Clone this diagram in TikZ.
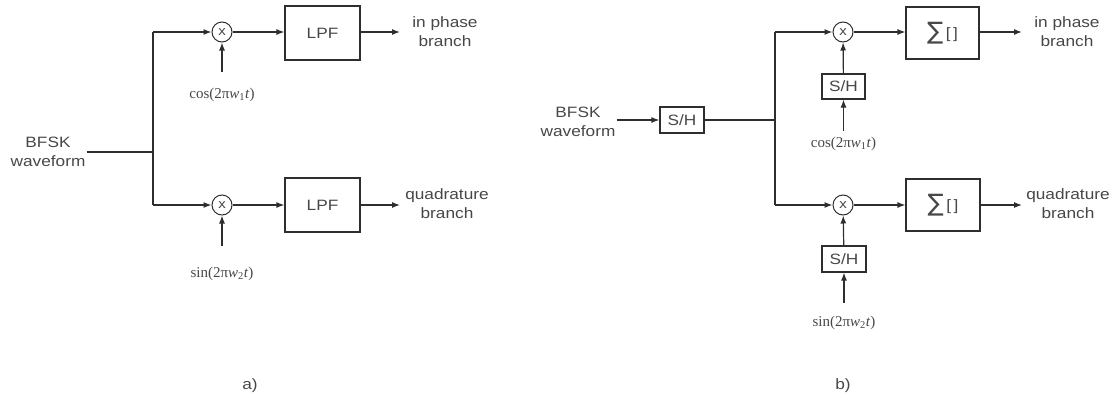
\documentclass[tikz,border=0pt]{standalone}
\usepackage{fontspec}
\setmainfont[FakeStretch=1.15]{Liberation Sans}
\newfontfamily\lblserif{Liberation Serif}
\newfontfamily\symfont{DejaVu Sans}
\usetikzlibrary{arrows.meta}
\definecolor{ink}{HTML}{2E2E2E}
\definecolor{txt}{HTML}{474747}
\tikzset{
  wire/.style={draw=ink, line width=1.2pt},
  arr/.style={wire, -{Latex[length=8pt,width=6pt]}},
  mult/.style={circle, draw=ink, line width=1pt, minimum size=20pt, inner sep=0pt, font=\fontsize{13}{14}\selectfont, text=txt},
  blk/.style={draw=ink, line width=1.2pt, inner sep=0pt, font=\fontsize{15}{17}\selectfont, text=txt},
  lbl/.style={align=center, font=\fontsize{15}{19}\selectfont, text=txt, inner sep=1pt},
  trig/.style={font=\lblserif\fontsize{15}{17}\selectfont, text=txt, inner sep=1pt},
}
\newcommand{\wsub}[1]{\textit{w}\textsubscript{#1}\textit{t}}
\newcommand{\sigmatext}{{\symfont\fontsize{24}{24}\selectfont ∑}\,\raisebox{1pt}{[\,]}}
\begin{document}
\begin{tikzpicture}[x=1pt,y=-1pt]
\useasboundingbox (0,0) rectangle (1114,397);
% ---------- panel a ----------
\node[lbl] (ina) at (48,152) {BFSK\\waveform};
\coordinate (ja) at (153,152);
\coordinate (ta) at (153,32);
\coordinate (ba) at (153,205);
\node[mult] (mta) at (222,32) {x};
\node[mult] (mba) at (222,205) {x};
\node[blk, minimum width=75pt, minimum height=54pt] (lpft) at (322.5,33) {LPF};
\node[blk, minimum width=75pt, minimum height=54pt] (lpfb) at (322.5,205) {LPF};
\coordinate (ota) at (400,32);
\coordinate (oba) at (400,205);
\node[lbl] (ipa) at (445,32) {in phase\\branch};
\node[lbl] (qa) at (447,204) {quadrature\\branch};
\coordinate (csa) at (222,72);
\coordinate (ssa) at (222,246);
\node[trig] (cla) at (222,95) {cos(2π\wsub{1})};
\node[trig] (sla) at (222,274) {sin(2π\wsub{2})};
\node[lbl] (capa) at (250,386) {a)};

\draw[wire] (ina.east |- ja) -- (ja);
\draw[wire] (ta) -- (ba);
\draw[arr] (ta) -- (mta);
\draw[arr] (ba) -- (mba);
\draw[arr] (mta) -- (lpft.west |- mta);
\draw[arr] (mba) -- (lpfb);
\draw[arr] (lpft.east |- ota) -- (ota);
\draw[arr] (lpfb.east |- oba) -- (oba);
\draw[arr] (csa) -- (mta);
\draw[arr] (ssa) -- (mba);

% ---------- panel b ----------
\node[lbl] (inb) at (578,122) {BFSK\\waveform};
\node[blk, minimum width=44pt, minimum height=26pt] (shin) at (682,120) {S/H};
\coordinate (jb) at (775,120);
\coordinate (tb) at (775,32);
\coordinate (bb) at (775,205);
\node[mult] (mtb) at (843,32) {x};
\node[mult] (mbb) at (843,205) {x};
\node[blk, minimum width=43pt, minimum height=25pt] (sht) at (843.5,86.5) {S/H};
\node[blk, minimum width=44pt, minimum height=26pt] (shb) at (844,259) {S/H};
\node[blk, minimum width=73pt, minimum height=52pt] (sigt) at (942.5,33) {\sigmatext};
\node[blk, minimum width=74pt, minimum height=52pt] (sigb) at (943,205) {\sigmatext};
\coordinate (otb) at (1022,32);
\coordinate (obb) at (1022,205);
\node[lbl] (ipb) at (1067,32) {in phase\\branch};
\node[lbl] (qb) at (1068,204) {quadrature\\branch};
\coordinate (csb) at (843.5,131);
\coordinate (ssb) at (844,303);
\node[trig] (clb) at (843.5,144) {cos(2π\wsub{1})};
\node[trig] (slb) at (844,323) {sin(2π\wsub{2})};
\node[lbl] (capb) at (843,386) {b)};

\draw[arr] (inb.east |- shin) -- (shin);
\draw[wire] (shin) -- (jb);
\draw[wire] (tb) -- (bb);
\draw[arr] (tb) -- (mtb);
\draw[arr] (bb) -- (mbb);
\draw[arr] (mtb) -- (sigt.west |- mtb);
\draw[arr] (mbb) -- (sigb);
\draw[arr] (sigt.east |- otb) -- (otb);
\draw[arr] (sigb.east |- obb) -- (obb);
\draw[arr] (sht) -- (mtb);
\draw[arr] (csb) -- (sht);
\draw[arr] (shb) -- (mbb);
\draw[arr] (ssb) -- (shb);
\end{tikzpicture}
\end{document}
